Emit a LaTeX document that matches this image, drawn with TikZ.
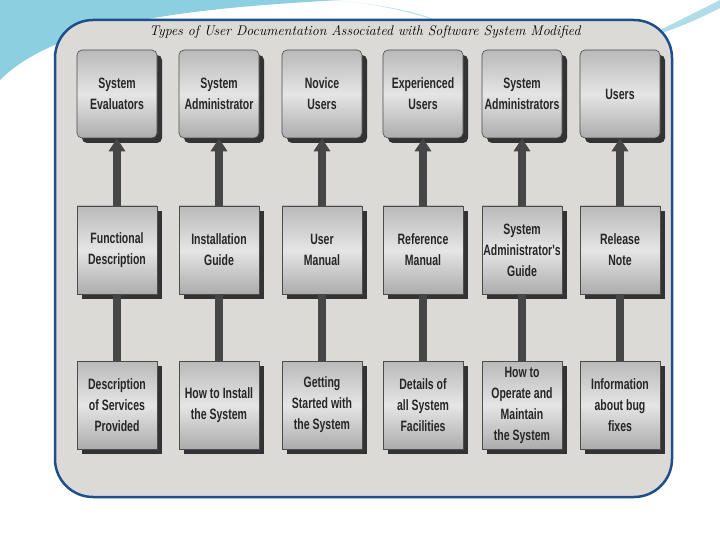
\documentclass[tikz,border=0pt]{standalone}
\usepackage{fontspec}
\newfontfamily\boxfont[FakeStretch=0.7]{Liberation Sans}
\usetikzlibrary{shadows,arrows.meta}
\definecolor{frameblue}{HTML}{1F4E8C}
\definecolor{swoosh}{HTML}{8CCFE0}
\definecolor{scanbg}{HTML}{DCDAD6}
\tikzset{
 box/.style={minimum width=80pt,inner sep=1pt,minimum height=88pt,align=center,
   font=\boxfont\bfseries\fontsize{15}{21}\selectfont,text=black!85,
   top color=gray!55,bottom color=gray!65,middle color=gray!20,
   draw=gray!60!black,line width=0.6pt,
   drop shadow={shadow xshift=5pt,shadow yshift=-5pt,fill=black!80,opacity=1}},
 topbox/.style={box,rounded corners=5pt},
 up/.style={-{Triangle[width=16pt,length=13pt]},line width=8pt,draw=gray!55!black},
 shaft/.style={line width=8pt,draw=gray!55!black}
}
\begin{document}
\begin{tikzpicture}[x=1pt,y=-1pt]
\useasboundingbox (0,0) rectangle (720,540);
\fill[white] (0,0) rectangle (720,540);
\fill[swoosh] (0,0) -- (340,0) .. controls (200,8) and (60,20) .. (0,80) -- cycle;
\fill[swoosh!60] (330,0) .. controls (380,4) and (420,12) .. (440,22) .. controls (400,8) and (360,2) .. (330,0);
\fill[swoosh!70] (640,40) .. controls (680,20) and (700,10) .. (720,0) -- (720,8) .. controls (700,18) and (680,28) .. (640,40);
\draw[frameblue,line width=2.5pt,fill=scanbg,rounded corners=38pt] (55,20) rectangle (672,497);
\node[font=\rmfamily\itshape\fontsize{14}{16}\selectfont,text=black] (title) at (365,32) {Types of User Documentation Associated with Software System Modified};
\foreach \n/\x/\a/\b/\c in {
 1/117/{System\\Evaluators}/{Functional\\Description}/{Description\\of Services\\Provided},
 2/219/{System\\Administrator}/{Installation\\Guide}/{How to Install\\the System},
 3/322/{Novice\\Users}/{User\\Manual}/{Getting\\Started with\\the System},
 4/423/{Experienced\\Users}/{Reference\\Manual}/{Details of\\all System\\Facilities},
 5/522/{System\\Administrators}/{System\\Administrator's\\Guide}/{How to\\Operate and\\Maintain\\the System},
 6/620/{Users}/{Release\\Note}/{Information\\about bug\\fixes}}{
 \node[topbox] (t\n) at (\x,94) {\a};
 \node[box] (m\n) at (\x,250) {\b};
 \node[box] (b\n) at (\x,405) {\c};
 \draw[up] (m\n.north) -- (t\n.south);
 \draw[shaft] (b\n.north) -- (m\n.south);
}
\end{tikzpicture}
\end{document}
